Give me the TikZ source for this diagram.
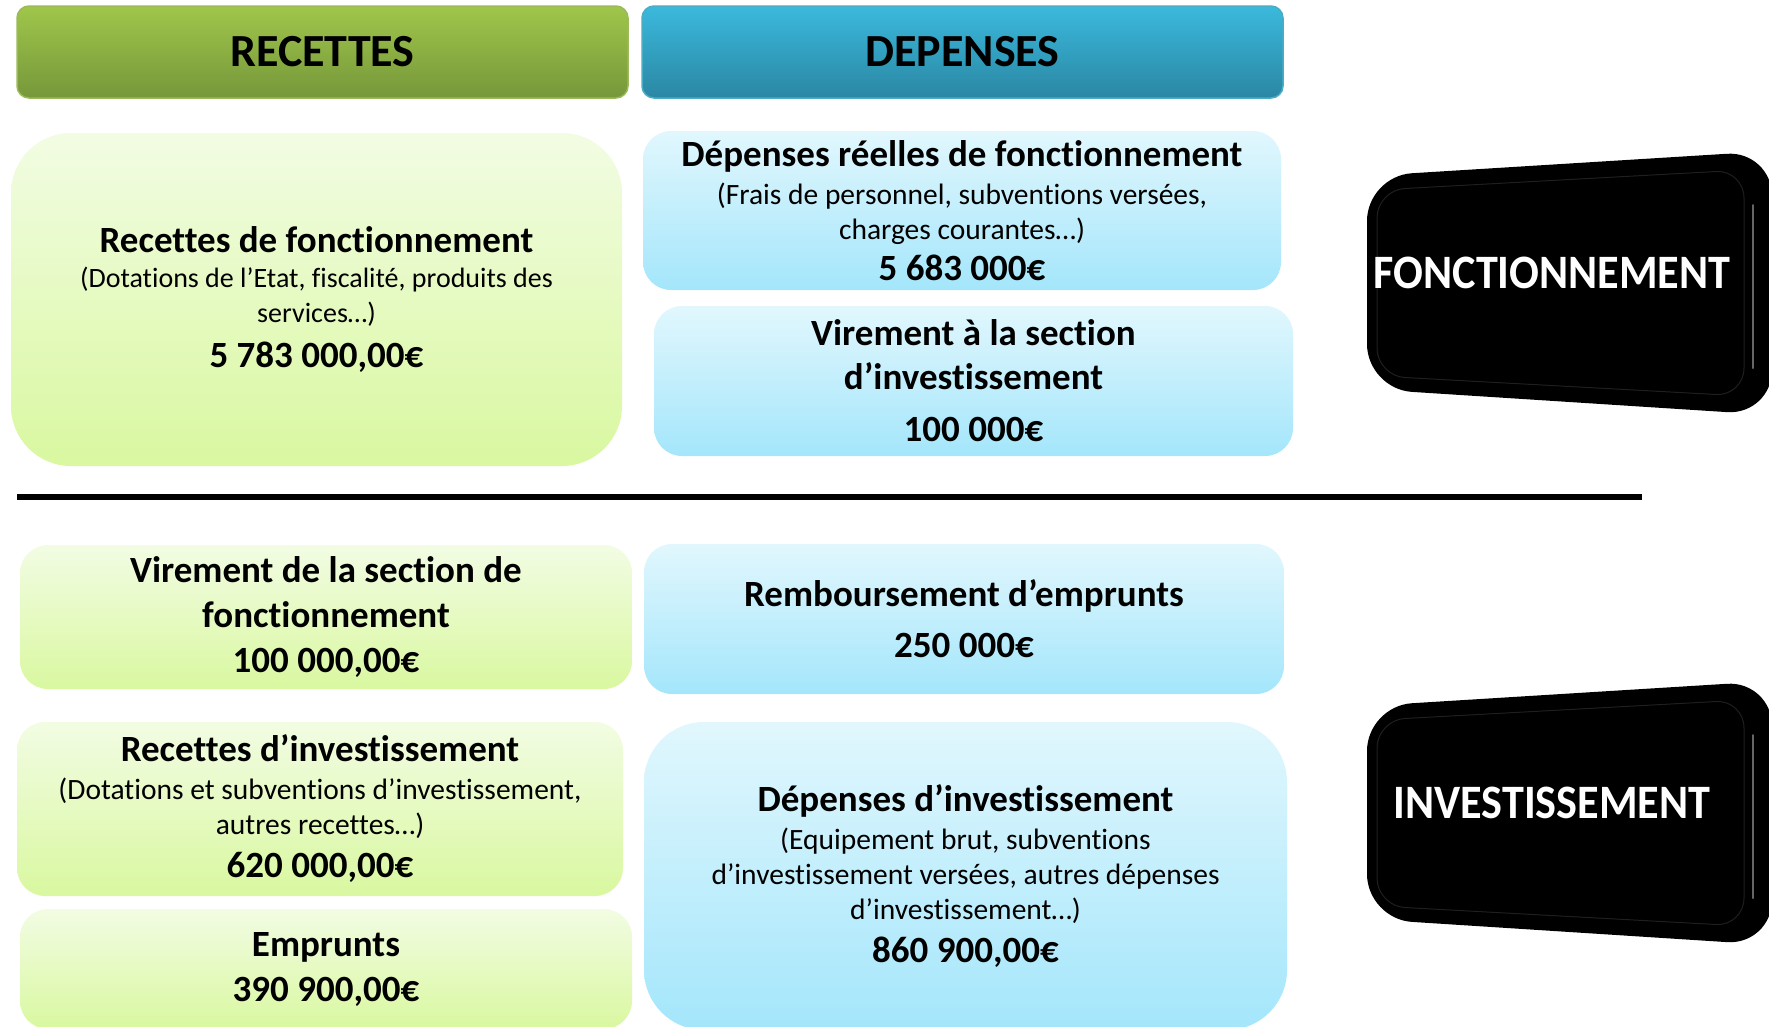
\documentclass[tikz,border=0pt]{standalone}
\usepackage{fontspec}
\setmainfont{Carlito}[Ligatures=NoCommon]
\newfontfamily\btnfont{Carlito}[FakeStretch=0.92, Ligatures=NoCommon]
\usepackage{tikz}
\definecolor{hgreenT}{RGB}{160, 198, 75}
\definecolor{hgreenB}{RGB}{118, 151, 58}
\definecolor{hgreenL}{RGB}{155, 187, 89}
\definecolor{hblueT}{RGB}{59, 185, 221}
\definecolor{hblueB}{RGB}{42, 135, 163}
\definecolor{hblueL}{RGB}{75, 172, 198}
\definecolor{lgreenT}{RGB}{242, 252, 227}
\definecolor{lgreenB}{RGB}{217, 248, 160}
\definecolor{lblueT}{RGB}{225, 247, 253}
\definecolor{lblueB}{RGB}{164, 230, 251}
\newcommand{\bld}[1]{{\fontsize{37}{44}\selectfont\bfseries #1}}
\newcommand{\btn}[3]{
  \begin{scope}[shift={(0,#1)}]
  \fill[black, rounded corners=45] (1367,176) -- (1772,151) -- (1772,415) -- (1367,389) -- cycle;
  \draw[black!88!white, line width=1, rounded corners=28] (1377,190) -- (1744,170) -- (1744,396) -- (1377,376) -- cycle;
  \draw[black!60!white, line width=2, line cap=round] (1753,205) -- (1753,368);
  \node[btntext] (#2) at (1552,273) {#3};
  \end{scope}
}
\tikzset{>=latex,
  hdrbox/.style={draw=#1L, top color=#1T, bottom color=#1B, line width=1.5, rounded corners=12,
    inner sep=0, font=\fontsize{46}{50}\selectfont\bfseries},
  recbox/.style={top color=lgreenT, bottom color=lgreenB, rounded corners=#1, inner sep=0,
    align=center, font=\fontsize{29.5}{35}\selectfont},
  recbox/.default=28,
  depbox/.style={top color=lblueT, bottom color=lblueB, rounded corners=#1, inner sep=0,
    align=center, font=\fontsize{29.5}{35}\selectfont},
  depbox/.default=28,
  btntext/.style={text=white, font=\fontsize{48}{52}\selectfont\btnfont\bfseries}
}

\begin{document}
\begin{tikzpicture}[x=1pt, y=-1pt]
  \useasboundingbox (0,0) rectangle (1769,1026);
  \clip (0,0) rectangle (1769,1026);
  \node[hdrbox=hgreen, minimum width=611, minimum height=92] (hrec) at (322.5,52) {RECETTES};
  \node[hdrbox=hblue, minimum width=641, minimum height=92] (hdep) at (962.5,52) {DEPENSES};

  \node[recbox=60, minimum width=611, minimum height=333, font=\fontsize{28}{35}\selectfont] (rfonc) at (316.5,299.5)
    {\bld{Recettes de fonctionnement}\\ (Dotations de l’Etat, fiscalité, produits des\\ services…)\\[10] \bld{5 783 000,00€}};
  \node[depbox, minimum width=638, minimum height=159] (dreel) at (962,210.5)
    {\bld{Dépenses réelles de fonctionnement}\\[3] (Frais de personnel, subventions versées,\\ charges courantes…)\\[6] \bld{5 683 000€}};
  \node[depbox, minimum width=639, minimum height=150] (virinv) at (973.5,381)
    {\bld{Virement à la section}\\[9] \bld{d’investissement}\\[17] \bld{100 000€}};

  \coordinate (sepL) at (17,497);
  \coordinate (sepR) at (1642,497);
  \draw[line width=6] (sepL) -- (sepR);

  \node[recbox, minimum width=612, minimum height=144] (virfonc) at (326,617)
    {\bld{Virement de la section de}\\[10] \bld{fonctionnement}\\[10] \bld{100 000,00€}};
  \node[depbox, minimum width=640, minimum height=150] (remb) at (964,619)
    {\bld{Remboursement d’emprunts}\\[16] \bld{250 000€}};
  \node[recbox, minimum width=606, minimum height=174] (rinv) at (320,809)
    {\bld{Recettes d’investissement}\\[3] (Dotations et subventions d’investissement,\\ autres recettes…)\\[8] \bld{620 000,00€}};
  \node[recbox, minimum width=612, minimum height=120] (empr) at (326,969)
    {\bld{Emprunts}\\[10] \bld{390 900,00€}};
  \node[depbox=60, minimum width=643, minimum height=308] (dinv) at (965.5,876)
    {\bld{Dépenses d’investissement}\\[3] (Equipement brut, subventions\\ d’investissement versées, autres dépenses\\ d’investissement…)\\[8] \bld{860 900,00€}};

  \btn{0}{fonc}{FONCTIONNEMENT}
  \btn{530}{inv}{INVESTISSEMENT}
\end{tikzpicture}
\end{document}
